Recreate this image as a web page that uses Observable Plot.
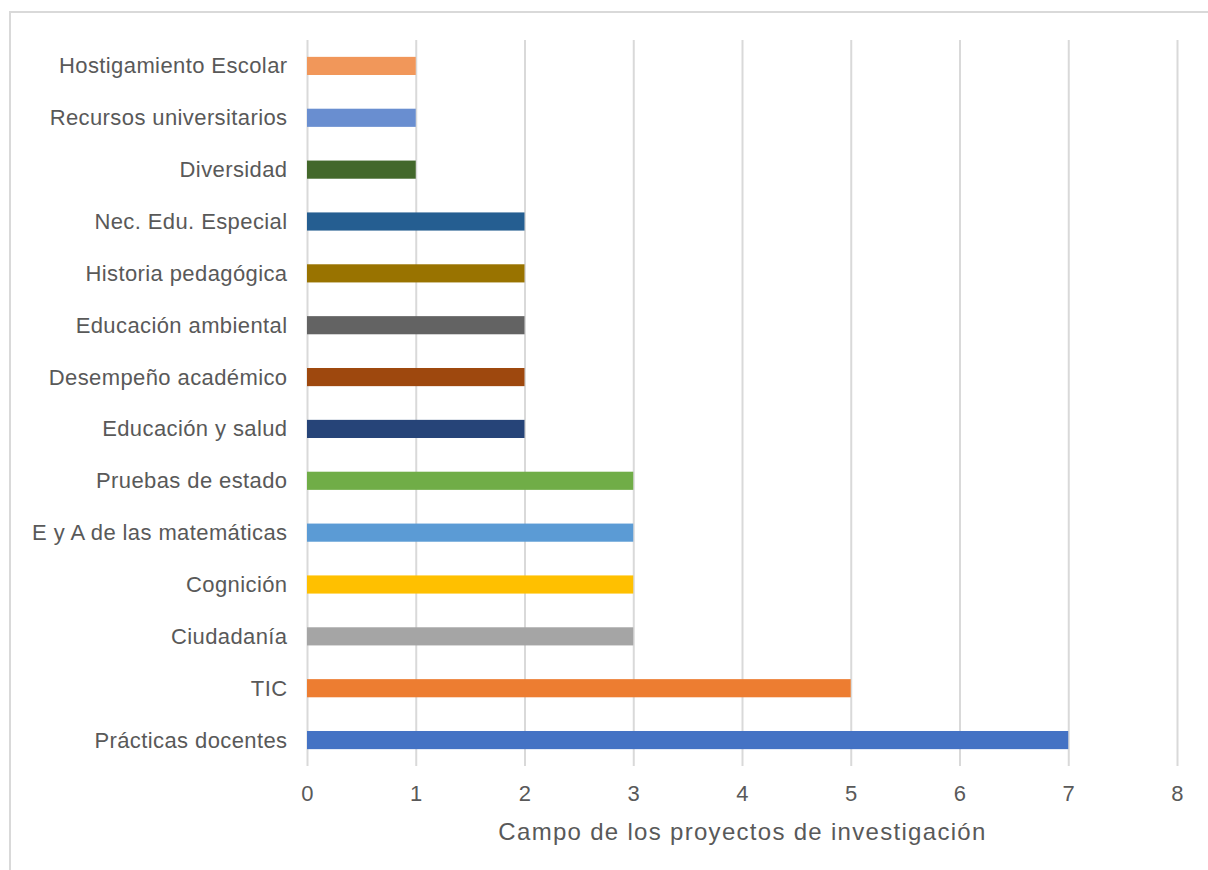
<!DOCTYPE html>
<html>
<head>
<meta charset="utf-8">
<script src="https://cdn.jsdelivr.net/npm/d3@7"></script>
<script src="https://cdn.jsdelivr.net/npm/@observablehq/plot@0.6"></script>
<style>
  html, body { margin: 0; padding: 0; background: #fff; }
  #wrap { position: relative; width: 1208px; height: 870px; overflow: hidden; }
  #frame { position: absolute; left: 9px; top: 11px; width: 1300px; height: 1000px;
           border-top: 2px solid #d9d9d9; border-left: 2px solid #d9d9d9; box-sizing: border-box; }
  #chart { position: absolute; left: 0; top: 0; }
  svg text { font-family: "Liberation Sans", Arial, sans-serif; }
</style>
</head>
<body>
<div id="wrap"><div id="frame"></div><div id="chart"></div></div>
<script>
const categories = [
  "Hostigamiento Escolar",
  "Recursos universitarios",
  "Diversidad",
  "Nec. Edu. Especial",
  "Historia pedagógica",
  "Educación ambiental",
  "Desempeño académico",
  "Educación y salud",
  "Pruebas de estado",
  "E y A de las matemáticas",
  "Cognición",
  "Ciudadanía",
  "TIC",
  "Prácticas docentes"
];
const values = [1, 1, 1, 2, 2, 2, 2, 2, 3, 3, 3, 3, 5, 7];
const colors = [
  "#F1975A", "#698ED0", "#43682B", "#255E91", "#997300", "#636363", "#9E480E",
  "#264478", "#70AD47", "#5B9BD5", "#FFC000", "#A5A5A5", "#ED7D31", "#4472C4"
];
const xTicks = [0, 1, 2, 3, 4, 5, 6, 7, 8];
const xLabel = "Campo de los proyectos de investigación";

const data = categories.map((c, i) => ({ cat: c, value: values[i], color: colors[i] }));

const chart = Plot.plot({
  width: 1208,
  height: 870,
  marginLeft: 307,
  marginRight: 31,
  marginTop: 40,
  marginBottom: 104,
  style: { fontFamily: "Liberation Sans, Arial, sans-serif", fontSize: "21px", color: "#595959", background: "transparent" },
  x: { domain: [0, 8] },
  y: { domain: categories, paddingInner: 0.65, paddingOuter: 0.325, round: false },
  marks: [
    Plot.gridX(xTicks, { stroke: "#d9d9d9", strokeOpacity: 1, strokeWidth: 2 }),
    Plot.barX(data, { y: "cat", x1: 0, x2: "value", fill: "color" }),
    Plot.axisY({ tickSize: 0, tickPadding: 20, label: null, fontSize: 22, fill: "#595959" }),
    Plot.axisX(xTicks, { tickSize: 0, tickPadding: 19, fontSize: 22, fill: "#595959",
      label: null, tickFormat: d => String(d) }),
    Plot.text([xLabel], { frameAnchor: "bottom", dy: 66, lineAnchor: "middle",
      fontSize: 24, fill: "#595959", text: d => d, className: "xlabel" })
  ]
});
document.getElementById("chart").appendChild(chart);
chart.querySelectorAll("text").forEach(t => t.style.letterSpacing = "0.4px");
chart.querySelectorAll(".xlabel text").forEach(t => t.style.letterSpacing = "1.3px");
</script>
</body>
</html>
